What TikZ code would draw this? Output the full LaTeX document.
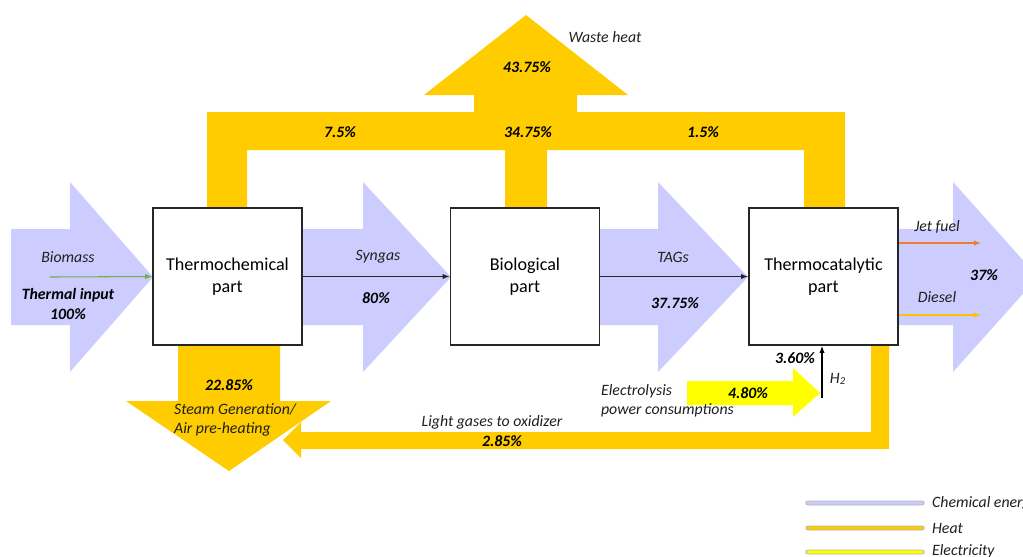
\documentclass[tikz,border=0pt]{standalone}
\usepackage{fontspec}
\setmainfont{Carlito}
\usepackage{tikz}
\usetikzlibrary{arrows.meta}

\definecolor{chem}{RGB}{204,204,255}
\definecolor{heat}{RGB}{255,204,0}
\definecolor{elec}{RGB}{255,255,0}
\definecolor{biogreen}{RGB}{112,173,71}
\definecolor{jetorange}{RGB}{237,125,49}
\definecolor{dieselgold}{RGB}{255,192,0}

\tikzset{
    unitbox/.style={draw=black!85, line width=1pt, fill=white, minimum width=2.98cm,
                    minimum height=2.74cm, align=center, font=\fontsize{10.3}{12.5}\selectfont},
    chemflow/.style={fill=chem},
    heatflow/.style={fill=heat},
    elecflow/.style={fill=elec},
    flowlabel/.style={font=\fontsize{9}{11}\selectfont\itshape, text=black!88, inner sep=1pt},
    valuelabel/.style={font=\fontsize{9}{11}\selectfont\bfseries\itshape, inner sep=1pt},
    thinflow/.style={-{Latex[length=4pt,width=3pt]}, line width=0.6pt},
    legendbar/.style={draw=black!30, line width=0.4pt, rounded corners=1.2pt}
}

\begin{document}
\begin{tikzpicture}[x=0.02cm, y=-0.02cm]
    \useasboundingbox (0,0) rectangle (1023,556);

    % Chemical energy arrows
    \fill[chemflow] (11,229) -- (70,229) -- (70,182) -- (153,277) -- (70,372) -- (70,325) -- (11,325) -- cycle;
    \fill[chemflow] (302,229) -- (363,229) -- (363,182) -- (451,277) -- (363,372) -- (363,325) -- (302,325) -- cycle;
    \fill[chemflow] (599,229) -- (658,229) -- (658,182) -- (748,277) -- (658,372) -- (658,325) -- (599,325) -- cycle;
    \fill[chemflow] (897,229) -- (953,229) -- (953,182) -- (1038,277) -- (953,372) -- (953,325) -- (897,325) -- cycle;

    % Heat loop and waste heat
    \fill[heatflow] (207,208) -- (207,112) -- (474,112) -- (474,95) -- (424,95) -- (526,15)
        -- (628,95) -- (577,95) -- (577,112) -- (845,112) -- (845,208) -- (804,208) -- (804,150)
        -- (547,150) -- (547,208) -- (505,208) -- (505,150) -- (247,150) -- (247,208) -- cycle;

    % Steam generation arrow
    \fill[heatflow] (178,345) -- (280,345) -- (280,401) -- (331,401) -- (229,471) -- (126,401) -- (178,401) -- cycle;

    % Light gases return
    \fill[heatflow] (871,345) -- (889,345) -- (889,449) -- (301,449) -- (301,458) -- (283,440)
        -- (301,422) -- (301,432) -- (871,432) -- cycle;

    % Electricity
    \fill[elecflow] (687,381) -- (793,381) -- (793,368) -- (820,393) -- (793,417) -- (793,405) -- (687,405) -- cycle;

    % Units
    \node[unitbox] (thermo) at (227.5,276.5) {Thermochemical\\part};
    \node[unitbox] (bio) at (525,276.5) {Biological\\part};
    \node[unitbox] (cat) at (823.5,276.5) {Thermocatalytic\\part};

    % Thin flows
    \coordinate (bmstart) at (50,277);
    \coordinate (jetend) at (981,243);
    \coordinate (dieselend) at (981,315);
    \coordinate (h2foot) at (822,398);
    \draw[thinflow, biogreen] (bmstart) -- (thermo.west);
    \draw[thinflow, black!85] (thermo.east) -- (bio.west);
    \draw[thinflow, black!85] (bio.east) -- (cat.west);
    \draw[thinflow, jetorange] (cat.east |- jetend) -- (jetend);
    \draw[thinflow, dieselgold] (cat.east |- dieselend) -- (dieselend);
    \draw[thinflow, black] (h2foot) -- (h2foot |- cat.south);

    % Labels
    \node[flowlabel] (biomass) at (68,257) {Biomass};
    \node[valuelabel, align=center] (thermalin) at (68,304) {Thermal input\\100\%};
    \node[flowlabel] (syngas) at (378,257) {Syngas};
    \node[valuelabel] (syngasval) at (376,298) {80\%};
    \node[flowlabel] (tags) at (673,257) {TAGs};
    \node[valuelabel] (tagsval) at (675,303) {37.75\%};
    \node[flowlabel] (jetfuel) at (937,227) {Jet fuel};
    \node[flowlabel] (diesel) at (937,297) {Diesel};
    \node[valuelabel] (fuelval) at (984,275) {37\%};
    \node[flowlabel] (waste) at (605,37) {Waste heat};
    \node[valuelabel] (wasteval) at (527,67) {43.75\%};
    \node[valuelabel] (heatleft) at (340,132) {7.5\%};
    \node[valuelabel] (heatmid) at (528,132) {34.75\%};
    \node[valuelabel] (heatright) at (703,132) {1.5\%};
    \node[valuelabel] (steamval) at (229,385) {22.85\%};
    \node[flowlabel, align=left, anchor=west] (steam) at (172,420) {Steam Generation/\\Air pre-heating};
    \node[flowlabel] (lightgas) at (492,422) {Light gases to oxidizer};
    \node[valuelabel] (lightval) at (502,441) {2.85\%};
    \node[flowlabel, align=left, anchor=west] (electro) at (599,401) {Electrolysis\\power consumptions};
    \node[valuelabel] (elecval) at (748,393) {4.80\%};
    \node[valuelabel, anchor=east] (h2val) at (817,358) {3.60\%};
    \node[flowlabel] (h2) at (838,379) {H\textsubscript{2}};

    % Legend
    \draw[legendbar, fill=chem] (806,501) rectangle (924,505);
    \draw[legendbar, fill=heat] (806,526) rectangle (924,530);
    \draw[legendbar, fill=elec] (806,550) rectangle (924,554);
    \node[flowlabel, anchor=west] (legchem) at (930,503) {Chemical energy};
    \node[flowlabel, anchor=west] (legheat) at (930,528) {Heat};
    \node[flowlabel, anchor=west] (legelec) at (930,551) {Electricity};
\end{tikzpicture}
\end{document}
